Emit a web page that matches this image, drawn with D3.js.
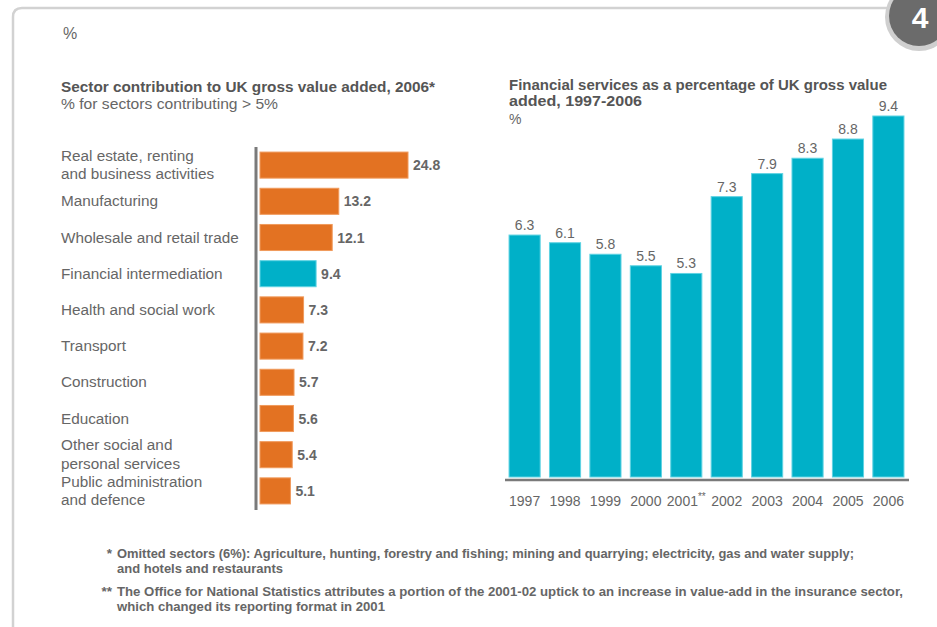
<!DOCTYPE html>
<html><head><meta charset="utf-8">
<script src="https://cdn.jsdelivr.net/npm/d3@7"></script>
<style>
body{margin:0;background:#fff;}
svg{display:block;}
text{font-family:"Liberation Sans",Arial,sans-serif;}
</style></head>
<body>
<svg id="c" width="937" height="627"></svg>
<script>
const sectors = ["Real estate, renting|and business activities","Manufacturing","Wholesale and retail trade","Financial intermediation","Health and social work","Transport","Construction","Education","Other social and|personal services","Public administration|and defence"];
const sectorValues = [24.8,13.2,12.1,9.4,7.3,7.2,5.7,5.6,5.4,5.1];
const highlight = "Financial intermediation";
const years = ["1997","1998","1999","2000","2001","2002","2003","2004","2005","2006"];
const finValues = [6.3,6.1,5.8,5.5,5.3,7.3,7.9,8.3,8.8,9.4];
const footnotes = [
 ["*","Omitted sectors (6%): Agriculture, hunting, forestry and fishing; mining and quarrying; electricity, gas and water supply;","and hotels and restaurants"],
 ["**","The Office for National Statistics attributes a portion of the 2001-02 uptick to an increase in value-add in the insurance sector,","which changed its reporting format in 2001"]
];

const ORANGE="#E37222", TEAL="#00B0C8", GREY="#666";
const svg=d3.select("#c");

function condText(x,y,str,size,weight,width,fill){
  const t=svg.append("text").attr("x",x).attr("y",y).attr("font-size",size)
    .attr("font-weight",weight).attr("fill",fill||"#555").text(str);
  if(width) t.attr("textLength",width).attr("lengthAdjust","spacingAndGlyphs");
  return t;
}

// frame
svg.append("path").attr("d","M13,627 L13,17 Q13,8 22,8 L890,8").attr("fill","none").attr("stroke","#d2d2d2").attr("stroke-width",2.5);
// badge
svg.append("circle").attr("cx",919).attr("cy",17).attr("r",34).attr("fill","#cfcfcf");
svg.append("circle").attr("cx",919).attr("cy",16).attr("r",30).attr("fill","#6b6b6b");
condText(920,28,"4",30,"bold",null,"#fff").attr("text-anchor","middle");

svg.append("text").attr("x",63).attr("y",39).attr("font-size",16).attr("fill",GREY).text("%");

// left chart titles
condText(61,92,"Sector contribution to UK gross value added, 2006*",15.5,"bold",374,"#555");
condText(61,109,"% for sectors contributing > 5%",15,"normal",217,GREY);

// left bars
const xL=d3.scaleLinear().domain([0,24.8]).range([260,408]);
const yL=d3.scaleBand().domain(sectors).range([147,509]).paddingInner(0.28).paddingOuter(0.14);
const gL=svg.append("g");
gL.selectAll("rect").data(sectors).join("rect")
 .attr("x",xL(0)).attr("y",d=>yL(d)).attr("height",yL.bandwidth())
 .attr("width",(d,i)=>xL(sectorValues[i])-xL(0))
 .attr("fill",d=>d.replace("|"," ")===highlight?TEAL:ORANGE)
 .attr("stroke",d=>d.replace("|"," ")===highlight?"#5fd3e3":"#f09a5c").attr("stroke-width",1);
gL.selectAll("text.v").data(sectors).join("text").attr("class","v")
 .attr("x",(d,i)=>xL(sectorValues[i])+5).attr("y",d=>yL(d)+yL.bandwidth()/2+5)
 .attr("font-size",14).attr("font-weight","bold").attr("fill",GREY).text((d,i)=>sectorValues[i].toFixed(1));
gL.selectAll("text.c").data(sectors).join("text").attr("class","c")
 .attr("font-size",15.3).attr("fill",GREY)
 .each(function(d){
   const parts=d.split("|"); const cy=yL(d)+yL.bandwidth()/2;
   const t=d3.select(this);
   parts.forEach((p,k)=>{
     t.append("tspan").attr("x",61).attr("y",cy+5+(k-(parts.length-1)/2)*18.5).text(p);
   });
 });
svg.append("line").attr("x1",256).attr("x2",256).attr("y1",147).attr("y2",510).attr("stroke","#7a7a7a").attr("stroke-width",3);

// right chart titles
condText(509,90,"Financial services as a percentage of UK gross value",15,"bold",378,"#555");
condText(509,106,"added, 1997-2006",15,"bold",133,"#555");
svg.append("text").attr("x",509).attr("y",124).attr("font-size",14).attr("fill",GREY).text("%");

const xR=d3.scaleBand().domain(years).range([505,908]).paddingInner(0.23).paddingOuter(0.1);
const yR=d3.scaleLinear().domain([0,9.4]).range([477,116]);
const gR=svg.append("g");
gR.selectAll("rect").data(years).join("rect")
 .attr("x",d=>xR(d)).attr("width",xR.bandwidth())
 .attr("y",(d,i)=>yR(finValues[i])).attr("height",(d,i)=>yR(0)-yR(finValues[i]))
 .attr("fill",TEAL).attr("stroke","#5fd3e3").attr("stroke-width",1);
gR.selectAll("text.v").data(years).join("text").attr("class","v")
 .attr("x",d=>xR(d)+xR.bandwidth()/2).attr("y",(d,i)=>yR(finValues[i])-5)
 .attr("text-anchor","middle").attr("font-size",14).attr("fill",GREY).text((d,i)=>finValues[i].toFixed(1));
const axis=d3.axisBottom(xR).tickSize(0).tickPadding(0);
const ga=svg.append("g").attr("transform","translate(0,480)").call(axis);
ga.select(".domain").remove();
svg.append("line").attr("x1",505).attr("x2",909).attr("y1",480).attr("y2",480).attr("stroke","#7a7a7a").attr("stroke-width",2.5);
ga.selectAll(".tick text").attr("font-family","Liberation Sans, Arial, sans-serif").attr("font-size",14).attr("fill",GREY).attr("dy",0).attr("y",26);
ga.selectAll(".tick").filter(d=>d==="2001").select("text").append("tspan").attr("font-size",10).attr("dy",-6).text("**");

// footnotes
const fnY=[558,596];
const fnW=[[737,166],[786,268]];
footnotes.forEach((f,i)=>{
  condText(112,fnY[i],f[0],13.5,"bold",null,GREY).attr("text-anchor","end");
  condText(117,fnY[i],f[1],13.5,"bold",fnW[i][0],GREY);
  condText(117,fnY[i]+14.5,f[2],13.5,"bold",fnW[i][1],GREY);
});
</script>
</body></html>
